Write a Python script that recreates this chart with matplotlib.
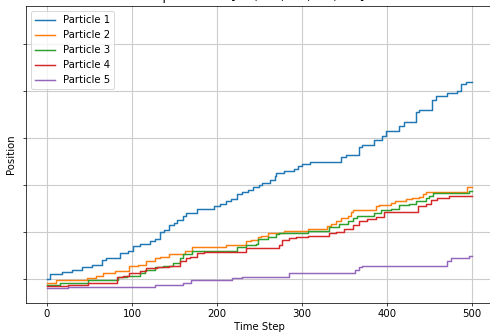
import numpy as np
import matplotlib
matplotlib.use('Agg')
import matplotlib.pyplot as plt

# time steps at which each particle moves, and its position after the move
p1_t = [0, 4, 18, 30, 41, 53, 65, 70, 86, 95, 101, 109, 121, 127, 133, 138, 144, 150,
        153, 160, 164, 177, 197, 203, 211, 217, 224, 230, 236, 242, 250, 253, 262, 268,
        270, 279, 291, 295, 300, 309, 346, 352, 367, 371, 385, 394, 399, 414, 420, 434,
        438, 453, 458, 471, 482, 487, 493]
p1_x = [0, 2, 3, 4, 5, 6, 8, 9, 11, 12, 14, 15, 16, 17, 20, 21, 23, 24,
        25, 27, 28, 30, 31, 32, 33, 34, 36, 37, 38, 39, 40, 41, 42, 44,
        45, 46, 47, 48, 49, 50, 52, 53, 56, 57, 59, 61, 63, 65, 67, 71,
        72, 76, 78, 79, 80, 83, 84]

p2_t = [0, 11, 47, 58, 66, 80, 97, 107, 117, 127, 133, 144, 162, 171, 211, 234, 240,
        248, 252, 260, 279, 307, 330, 334, 340, 346, 354, 358, 360, 387, 391, 405, 410,
        422, 430, 438, 442, 446, 494]
p2_x = [-1.5, -0.5, 0.5, 1.5, 2.5, 3.5, 5.5, 6, 7.5, 9, 9.5, 10.5, 12, 13.5, 14.5, 16, 16.5,
        18, 18.5, 19.5, 20.5, 21.5, 22.5, 23.5, 24.5, 26, 27, 28.5, 29.5, 31, 31.5, 32.5, 33,
        34, 34.5, 35, 36, 37, 39]

p3_t = [0, 15, 48, 83, 94, 109, 115, 127, 136, 148, 156, 160, 171, 223, 234, 246, 248,
        260, 270, 273, 307, 332, 344, 354, 360, 365, 385, 393, 405, 414, 426, 434, 446,
        450, 454, 496]
p3_x = [-2.5, -1.5, -0.5, 1, 1.5, 2.5, 4, 5, 5.5, 7, 9, 10.5, 12, 13.5, 14.5, 15, 17,
        18, 19, 19.5, 20.5, 22, 23.5, 24.5, 26, 27, 28, 29.5, 30, 31.5, 32, 33, 34.5,
        35.5, 36.5, 37.5]

p4_t = [0, 25, 48, 82, 89, 97, 109, 117, 129, 144, 156, 164, 168, 176, 185, 234, 273,
        277, 285, 293, 307, 332, 340, 350, 360, 367, 377, 387, 397, 436, 446, 452, 459, 473]
p4_x = [-3, -2.5, -1.5, 1, 1.5, 2.5, 3.5, 4.5, 5, 5.5, 7.5, 9, 9.5, 11, 11.5, 13, 14.5,
        16.5, 17.5, 18, 18.5, 19.5, 20, 21.5, 23, 24.5, 25.5, 26.5, 28.5, 31, 32, 33.5, 34.5, 35.5]

p5_t = [0, 25, 127, 160, 170, 218, 229, 285, 362, 367, 371, 471, 475, 496]
p5_x = [-4, -3.5, -2.5, -1.5, -0.5, 0.5, 1, 2.5, 4, 5, 5.5, 7.5, 9, 10]

labels = ['Particle 1', 'Particle 2', 'Particle 3', 'Particle 4', 'Particle 5']
speeds = [1.0, 0.5, 0.5, 0.5, 0.2]
n_steps = 500

plt.rcParams['font.size'] = 11

fig = plt.figure(figsize=(490 / 66, 335 / 66), dpi=66)
ax = fig.add_axes([0.0525, 0.0955, 0.954, 0.8866])

for t, x, lab in zip([p1_t, p2_t, p3_t, p4_t, p5_t],
                     [p1_x, p2_x, p3_x, p4_x, p5_x], labels):
    ax.step(t + [n_steps], x + [x[-1]], where='post', label=lab, linewidth=1.6)

ax.set_xlim(-25, 525)
ax.set_ylim(-10.2, 116.2)
ax.set_xticks(np.arange(0, 501, 100))
ax.set_yticks(np.arange(0, 101, 20))
ax.set_yticklabels([])
ax.grid(True, color='#cccccc', linewidth=1.2)
ax.set_xlabel('Time Step', labelpad=3)
ax.set_ylabel('Position')
ax.set_title('Speed list = ' + str(speeds), fontsize=13)
ax.legend(loc='upper left')

fig.savefig('out.png', dpi=66)
